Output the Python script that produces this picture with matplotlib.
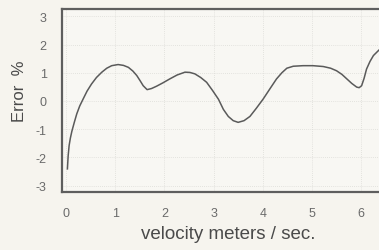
import matplotlib
matplotlib.use('Agg')
from matplotlib import pyplot as plt

plt.rcParams['axes.unicode_minus'] = False

# curve (velocity m/s, error %)
velocidad = [0.03, 0.045, 0.065, 0.09, 0.12, 0.17, 0.22, 0.28, 0.35, 0.43, 0.52,
             0.62, 0.73, 0.83, 0.93, 1.06, 1.17, 1.27, 1.36, 1.44, 1.51,
             1.57, 1.65, 1.74, 1.84, 1.97, 2.11, 2.26, 2.42, 2.52, 2.62,
             2.74, 2.86, 2.98, 3.10, 3.20, 3.30, 3.40, 3.50, 3.62, 3.74,
             3.87, 4.01, 4.15, 4.28, 4.39, 4.49, 4.62, 4.82, 5.02, 5.23,
             5.38, 5.50, 5.61, 5.71, 5.81, 5.91, 5.96, 6.01, 6.06, 6.11,
             6.18, 6.25, 6.36]
error = [-2.41, -1.95, -1.58, -1.32, -1.08, -0.76, -0.46, -0.18, 0.07, 0.35, 0.60,
         0.83, 1.02, 1.16, 1.25, 1.29, 1.26, 1.19, 1.06, 0.90, 0.71,
         0.54, 0.40, 0.44, 0.52, 0.64, 0.78, 0.92, 1.02, 1.01, 0.96,
         0.83, 0.66, 0.37, 0.06, -0.30, -0.55, -0.70, -0.76, -0.70, -0.55,
         -0.26, 0.07, 0.44, 0.78, 1.00, 1.16, 1.23, 1.25, 1.25, 1.22,
         1.16, 1.07, 0.94, 0.78, 0.62, 0.49, 0.47, 0.54, 0.80, 1.13,
         1.40, 1.61, 1.80]

xticks = [0, 1, 2, 3, 4, 5, 6]
yticks = [-3, -2, -1, 0, 1, 2, 3]

fondo = '#f6f4ee'
gris = '#5e5e5e'

fig = plt.figure(figsize=(3.79, 2.51), dpi=100, facecolor=fondo)
ax = fig.add_axes([62/379, 1 - 193/251, 338/379, 183/251])
ax.set_facecolor('#f8f7f3')

ax.plot(velocidad, error, color='#5a5a5a', lw=1.1, solid_joinstyle='round')

ax.set_xlim(-0.08, 6.79)
ax.set_ylim(-3.23, 3.26)
ax.set_xticks(xticks)
ax.set_yticks(yticks)
ax.tick_params(length=0, labelsize=9, colors='#6a6a6a')
ax.tick_params(axis='x', pad=11)
ax.tick_params(axis='y', pad=11)
for t in ax.get_xticklabels() + ax.get_yticklabels():
    t.set_family('Liberation Sans')

ax.grid(True, color='#dcdcd7', lw=0.6, ls=(0, (1, 1.5)))

for lado in ['left', 'top', 'bottom', 'right']:
    ax.spines[lado].set_color(gris)
    ax.spines[lado].set_linewidth(1.6)

ax.set_xlabel('velocity meters / sec.', family='Liberation Sans', fontsize=13.5, color='#4a4a4a')
ax.xaxis.set_label_coords((228-62)/338, -0.18)
ax.set_ylabel('Error  %', family='Liberation Sans', fontsize=12, color='#4a4a4a')
ax.yaxis.set_label_coords(-35/338, (193-91)/183)

plt.savefig('out.png', dpi=100, facecolor=fondo)
